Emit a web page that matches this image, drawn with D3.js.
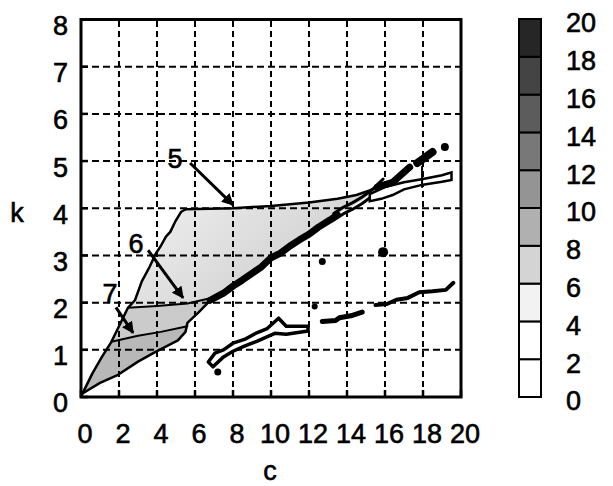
<!DOCTYPE html>
<html>
<head>
<meta charset="utf-8">
<script src="https://cdn.jsdelivr.net/npm/d3@7"></script>
<style>
  body { margin: 0; background: #fff; }
  text { font-family: "Liberation Sans", Arial, Helvetica, sans-serif; fill: #000; stroke: #000; stroke-width: 0.6px; }
</style>
</head>
<body>
<svg id="chart" width="613" height="486"></svg>
<script>
// axis ticks
const cTicks = [0, 2, 4, 6, 8, 10, 12, 14, 16, 18, 20];
const kTicks = [0, 1, 2, 3, 4, 5, 6, 7, 8];

// colour bar levels and shades (bottom -> top)
const cbLevels = [0, 2, 4, 6, 8, 10, 12, 14, 16, 18, 20];
const cbShades = ["#ffffff", "#ffffff", "#f2f2f2", "#d4d4d4", "#b0b0b0",
                  "#949494", "#787878", "#5c5c5c", "#444444", "#262626"];

// contour boundaries, as [c, k]
const edgeLeft = [[0.05,0.05],[0.6,0.5],[1.1,0.85],[1.6,1.17],[2.0,1.5],[2.47,1.89],[2.84,2.05],
  [3.2,2.45],[3.6,2.75],[3.95,3.05],[4.2,3.2],[4.47,3.4],[4.7,3.5],[4.95,3.71],[5.26,3.92],[5.5,3.98]];
const edgeTop5 = [[5.5,3.98],[8,4.0],[10,4.05],[12,4.12],[13.5,4.2],[14.5,4.28],[15.5,4.42]];
const edgeDiag = [[6.8,2.05],[7.5,2.2],[8,2.35],[8.5,2.48],[9,2.62],[9.5,2.76],[10,2.95],[10.5,3.05],
  [11,3.2],[11.5,3.33],[12,3.45],[12.5,3.6],[13.1,3.75],[13.5,3.86]];
const edgeDiagHollow = [[13.3,3.82],[13.8,3.95],[14.3,4.05],[14.8,4.17],[15.4,4.35],[15.9,4.55]];
const edgeLow = [[0.1,0.08],[1.0,0.3],[1.95,0.47],[3.0,0.75],[3.9,0.95],[5.1,1.2],[5.5,1.38],
  [5.6,1.57],[6.2,1.8],[6.8,2.05]];
const edgeSix = [[2.47,1.89],[4.0,1.93],[5.6,1.98],[6.85,2.1]];
const edgeSeven = [[1.6,1.17],[3.0,1.3],[4.2,1.38],[5.6,1.5]];

// outlined band near top right
const bandTop = [[15.2,4.3],[16,4.45],[17,4.55],[18,4.62],[19,4.7],[19.5,4.76]];
const bandBottom = [[19.5,4.6],[19,4.56],[18,4.5],[17,4.4],[16.4,4.28],[15.8,4.2],[15.2,4.15]];
// dark streaks above it
const streakA = [[15.6,4.45],[16.4,4.55],[17.3,4.87]];
const streakB = [[17.7,4.96],[18.5,5.19]];
const streakC = [[17.95,4.88],[17.95,4.45]];

// outlined band at lower middle
const bandLowTop = [[6.7,0.74],[7.05,0.93],[7.5,1.0],[8,1.14],[8.6,1.22],[9.25,1.36],[9.8,1.45],
  [10.4,1.67],[10.8,1.5],[11.95,1.5]];
const bandLowBottom = [[11.95,1.4],[10.8,1.33],[10.2,1.35],[9.25,1.18],[8.6,1.08],[8,0.97],
  [7.5,0.85],[6.95,0.64]];

// isolated segments and spots
const segC = [[12.7,1.6],[13.4,1.62],[13.6,1.68],[14.2,1.72],[14.8,1.8]];
const segD = [[15.5,1.95],[16.1,1.97],[16.6,2.06],[17.2,2.1],[17.8,2.22],[18.5,2.24],[19.2,2.27],[19.6,2.42]];
const spots = [
  {c: 7.2, k: 0.53, r: 3.5},
  {c: 12.7, k: 2.87, r: 3.5},
  {c: 15.9, k: 3.07, r: 5},
  {c: 12.3, k: 1.92, r: 3},
  {c: 19.15, k: 5.3, r: 4}
];

// contour labels with arrows
const notes = [
  {text: "5", c: 4.95, k: 5.06, from: [5.74, 4.96], to: [8.0, 4.07]},
  {text: "6", c: 2.9, k: 3.26, from: [3.53, 3.11], to: [5.37, 2.1]},
  {text: "7", c: 1.53, k: 2.2, from: [1.84, 1.9], to: [2.74, 1.36]}
];

const svg = d3.select("#chart");
const x = d3.scaleLinear().domain([0, 20]).range([81, 461]);
const y = d3.scaleLinear().domain([0, 8]).range([397, 19.5]);
const line = d3.line().x(d => x(d[0])).y(d => y(d[1]));
const rev = a => a.slice().reverse();

// light region gets denser towards the diagonal
const grad = svg.append("defs").append("linearGradient").attr("id", "fade5")
  .attr("gradientUnits", "userSpaceOnUse")
  .attr("x1", x(4)).attr("y1", y(4)).attr("x2", x(8)).attr("y2", y(2));
grad.append("stop").attr("offset", 0).attr("stop-color", "#ececec");
grad.append("stop").attr("offset", 1).attr("stop-color", "#d6d6d6");

// filled regions
const region5 = edgeLeft.concat(edgeTop5, rev(edgeDiagHollow), rev(edgeDiag), rev(edgeLow));
const region6 = edgeLeft.slice(3, 6).concat(edgeSix, rev(edgeLow).slice(0, 4), rev(edgeSeven));
const region7 = edgeLeft.slice(0, 4).concat(edgeSeven, rev(edgeLow).slice(3));

svg.append("path").attr("d", line(region5) + "Z").attr("fill", "url(#fade5)");
svg.append("path").attr("d", line(region6) + "Z").attr("fill", "#cbcbcb");
svg.append("path").attr("d", line(region7) + "Z").attr("fill", "#b8b8b8");

// grid
const g = svg.append("g");
g.selectAll(".vg").data(cTicks.slice(1, -1)).join("line")
  .attr("x1", d => x(d)).attr("x2", d => x(d))
  .attr("y1", y(0)).attr("y2", y(8))
  .attr("stroke", "#000").attr("stroke-width", 2).attr("stroke-dasharray", "6,4");
g.selectAll(".hg").data(kTicks.slice(1, -1)).join("line")
  .attr("y1", d => y(d)).attr("y2", d => y(d))
  .attr("x1", x(0)).attr("x2", x(20))
  .attr("stroke", "#000").attr("stroke-width", 2).attr("stroke-dasharray", "7,4");

// contour lines
const stroke = (pts, w) => svg.append("path").attr("d", line(pts))
  .attr("fill", "none").attr("stroke", "#000").attr("stroke-width", w)
  .attr("stroke-linejoin", "round").attr("stroke-linecap", "round");

stroke(edgeLeft, 2.5);
stroke(edgeTop5, 2.5);
stroke(edgeLow, 2.5);
stroke(edgeSix, 2);
stroke(edgeSeven, 2);
stroke(edgeDiag, 7);
stroke(edgeDiagHollow.map(d => [d[0], d[1] + 0.07]), 3);
stroke(edgeDiagHollow.map(d => [d[0], d[1] - 0.07]), 3);

svg.append("path").attr("d", line(bandTop.concat(bandBottom)) + "Z")
  .attr("fill", "#fff").attr("stroke", "#000").attr("stroke-width", 2.5);
stroke(streakA, 7);
stroke(streakB, 8);
stroke(streakC, 2);

svg.append("path").attr("d", line(bandLowTop.concat(bandLowBottom)) + "Z")
  .attr("fill", "#fff").attr("stroke", "#000").attr("stroke-width", 3.5)
  .attr("stroke-linejoin", "round");
stroke(segC, 5);
stroke(segD, 4);

svg.selectAll(".spot").data(spots).join("circle")
  .attr("cx", d => x(d.c)).attr("cy", d => y(d.k)).attr("r", d => d.r).attr("fill", "#000");

// annotations
svg.select("defs").append("marker")
  .attr("id", "head").attr("viewBox", "0 0 10 10").attr("refX", 9).attr("refY", 5)
  .attr("markerWidth", 4).attr("markerHeight", 4).attr("orient", "auto")
  .append("path").attr("d", "M0,0L10,5L0,10Z").attr("fill", "#000");

svg.selectAll(".arrow").data(notes).join("line")
  .attr("x1", d => x(d.from[0])).attr("y1", d => y(d.from[1]))
  .attr("x2", d => x(d.to[0])).attr("y2", d => y(d.to[1]))
  .attr("stroke", "#000").attr("stroke-width", 3).attr("marker-end", "url(#head)");
svg.selectAll(".note").data(notes).join("text")
  .attr("x", d => x(d.c)).attr("y", d => y(d.k)).attr("dy", "0.35em")
  .attr("text-anchor", "middle").attr("font-size", 27).text(d => d.text);

// frame and inward ticks
svg.append("rect").attr("x", x(0)).attr("y", y(8))
  .attr("width", x(20) - x(0)).attr("height", y(0) - y(8))
  .attr("fill", "none").attr("stroke", "#000").attr("stroke-width", 3);
g.selectAll(".xt").data(cTicks).join("line")
  .attr("x1", d => x(d)).attr("x2", d => x(d)).attr("y1", y(0)).attr("y2", y(0) - 7)
  .attr("stroke", "#000").attr("stroke-width", 2.5);
g.selectAll(".yt").data(kTicks).join("line")
  .attr("y1", d => y(d)).attr("y2", d => y(d)).attr("x1", x(0)).attr("x2", x(0) + 7)
  .attr("stroke", "#000").attr("stroke-width", 2.5);

// tick labels
svg.selectAll(".xl").data(cTicks).join("text")
  .attr("x", d => x(d) + 4).attr("y", 443).attr("text-anchor", "middle")
  .attr("font-size", 27).text(d => d);
svg.selectAll(".yl").data(kTicks).join("text")
  .attr("x", 68).attr("y", d => y(d) + 6).attr("dy", "0.35em").attr("text-anchor", "end")
  .attr("font-size", 27).text(d => d);
svg.append("text").attr("x", 17).attr("y", 213).attr("dy", "0.35em")
  .attr("text-anchor", "middle").attr("font-size", 27).text("k");
svg.append("text").attr("x", 270).attr("y", 480)
  .attr("text-anchor", "middle").attr("font-size", 27).text("c");

// colour bar
const yc = d3.scaleLinear().domain([0, 20]).range([397, 19]);
const cb = svg.append("g");
cb.selectAll("rect").data(cbShades).join("rect")
  .attr("x", 519).attr("width", 22)
  .attr("y", (d, i) => yc(cbLevels[i + 1])).attr("height", (d, i) => yc(cbLevels[i]) - yc(cbLevels[i + 1]))
  .attr("fill", d => d).attr("stroke", "#000").attr("stroke-width", 2);
cb.selectAll("text").data(cbLevels).join("text")
  .attr("x", 566).attr("y", d => yc(d) + 4).attr("dy", "0.35em")
  .attr("font-size", 27).text(d => d);
</script>
</body>
</html>
